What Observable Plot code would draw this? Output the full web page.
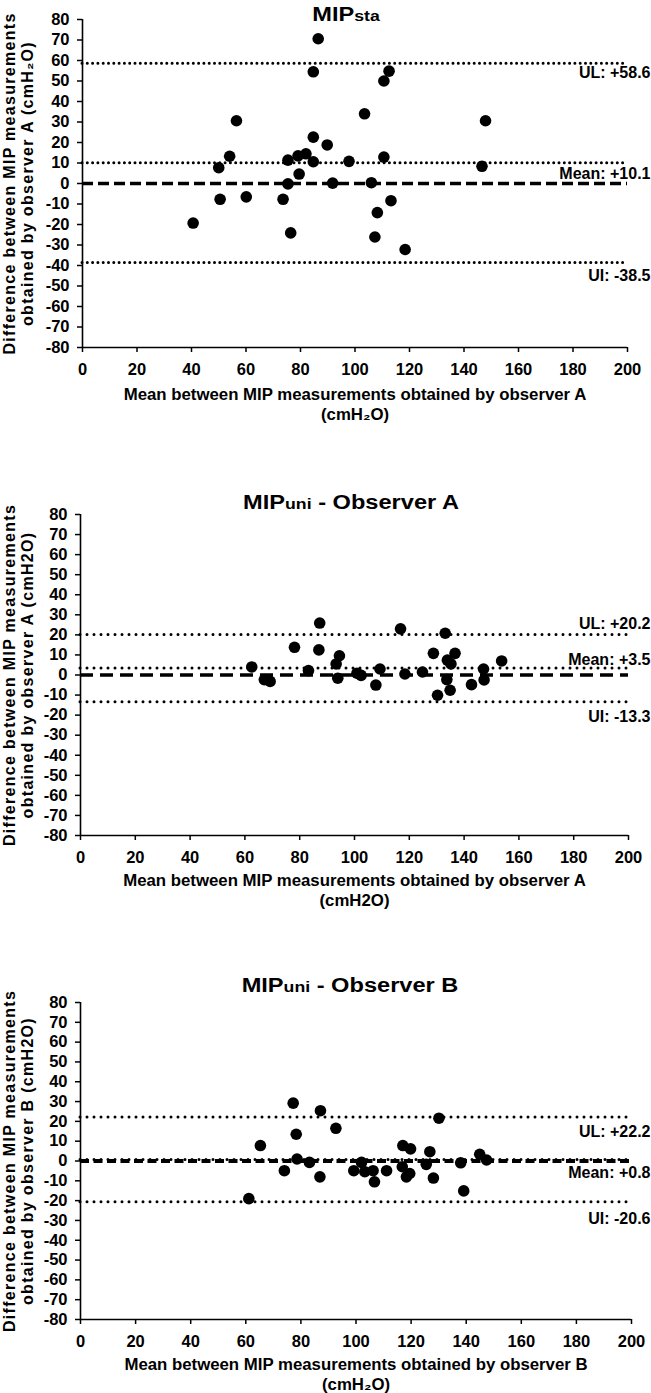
<!DOCTYPE html>
<html><head><meta charset="utf-8">
<script src="https://cdn.jsdelivr.net/npm/d3@7"></script>
<script src="https://cdn.jsdelivr.net/npm/@observablehq/plot@0.6"></script>
<style>
html,body{margin:0;padding:0;background:#fff;}
#wrap{position:relative;width:651px;height:1393px;overflow:hidden;font-family:"Liberation Sans",Arial,sans-serif;}
.panel{position:absolute;left:0;}
.title{position:absolute;font-weight:bold;font-size:20px;line-height:1;color:#000;white-space:nowrap;transform:translate(-50%,-50%) scaleX(1.18);}
.title .s{font-size:15px;}
</style></head><body><div id="wrap"></div>
<script>
// ---- data ----
const xTicks = [0, 20, 40, 60, 80, 100, 120, 140, 160, 180, 200];
const yTicks = [-80, -70, -60, -50, -40, -30, -20, -10, 0, 10, 20, 30, 40, 50, 60, 70, 80];

// Panel 1: MIPsta
const means1 = [86.5, 84.7, 112.5, 110.6, 103.5, 147.9, 56.5, 84.7, 89.8, 82.0, 79.1, 54.0, 75.4, 84.7, 97.8, 110.6, 146.6, 50.0, 79.5, 75.4, 91.8, 106.0, 50.5, 60.1, 73.6, 113.2, 108.2, 40.6, 76.4, 107.3, 118.4];
const diffs1 = [70.6, 54.5, 54.8, 50.0, 34.0, 30.6, 30.6, 22.6, 18.8, 14.5, 13.5, 13.3, 11.4, 10.6, 10.8, 12.9, 8.4, 7.7, 4.6, -0.2, 0.2, 0.4, -7.7, -6.5, -7.7, -8.4, -14.2, -19.3, -24.1, -26.1, -32.2];
const limits1 = [58.6, 10.1, -38.5];
const labels1 = ["UL: +58.6", "Mean: +10.1", "UI: -38.5"];

// Panel 2: MIPuni - Observer A
const means2 = [87.3, 116.8, 133.1, 78.1, 87.0, 94.5, 93.3, 128.8, 136.7, 133.9, 135.2, 153.7, 62.5, 83.2, 109.3, 147.1, 124.8, 100.9, 102.4, 118.4, 67.1, 69.2, 93.9, 133.7, 147.3, 107.8, 142.7, 134.9, 130.3];
const diffs2 = [25.9, 23.0, 20.8, 13.8, 12.5, 9.6, 5.5, 10.8, 10.8, 7.4, 5.5, 7.0, 4.0, 2.2, 3.0, 3.0, 1.5, 0.9, -0.2, 0.5, -2.3, -3.2, -1.6, -2.3, -2.5, -5.0, -4.8, -7.6, -10.1];
const limits2 = [20.2, 3.5, -13.3];
const labels2 = ["UL: +20.2", "Mean: +3.5", "UI: -13.3"];

// Panel 3: MIPuni - Observer B
const means3 = [77.2, 87.1, 130.1, 92.7, 78.3, 65.3, 117.0, 119.8, 126.8, 144.9, 147.4, 78.6, 83.1, 102.0, 138.0, 125.5, 116.8, 74.0, 99.2, 103.2, 106.2, 111.1, 119.5, 86.9, 118.3, 128.1, 106.7, 139.1, 61.1];
const diffs3 = [29.2, 25.4, 21.6, 16.5, 13.5, 7.8, 7.8, 6.1, 4.7, 3.4, 0.5, 1.0, -0.7, -0.7, -0.9, -1.7, -2.9, -4.9, -4.9, -5.4, -4.9, -4.9, -6.3, -8.0, -8.0, -8.6, -10.5, -15.1, -19.0];
const limits3 = [22.2, 0.8, -20.6];
const labels3 = ["UL: +22.2", "Mean: +0.8", "UI: -20.6"];

const FONT = '"Liberation Sans", Arial, sans-serif';
const wrap = document.getElementById("wrap");

function addTitle(html, cx, cy) {
  const d = document.createElement("div");
  d.className = "title";
  d.innerHTML = html;
  d.style.left = cx + "px";
  d.style.top = cy + "px";
  wrap.appendChild(d);
}

function panel(cfg) {
  const data = cfg.means.map((m, i) => ({m, d: cfg.diffs[i]}));
  const labelMarks = cfg.limits.map((v, i) =>
    Plot.text([cfg.labels[i]], {x: 200, y: v, text: d => d, dx: cfg.labelDx, dy: cfg.labelDy[i],
      textAnchor: "end", lineAnchor: "middle", fontSize: 16, fontWeight: "bold", fill: "#000"}));
  const svg = Plot.plot({
    width: 651, height: cfg.height,
    marginTop: cfg.mt, marginBottom: cfg.mb, marginLeft: cfg.ml, marginRight: cfg.mr,
    style: {fontFamily: FONT, fontSize: "16px", fontWeight: "bold", color: "#000", background: "transparent", overflow: "visible"},
    x: {domain: [0, 200], axis: null},
    y: {domain: [-80, 80], axis: null},
    marks: [
      Plot.ruleY([0], {stroke: "#000", strokeWidth: cfg.dashW, strokeDasharray: cfg.dash}),
      Plot.ruleY(cfg.limits, {y: d => d, stroke: "#000", strokeWidth: 3, strokeDasharray: "0," + cfg.dotGap, strokeLinecap: "round"}),
      Plot.dot(data, {x: "m", y: "d", r: 5.8, fill: "#000", stroke: null}),
      Plot.ruleX([0], {stroke: "#000", strokeWidth: 1.6}),
      Plot.ruleY([-80], {stroke: "#000", strokeWidth: 1.6}),
      Plot.axisX({ticks: xTicks, tickSize: 5, tickPadding: 11, strokeWidth: 1.5, tickFormat: d => String(d), fontSize: 16.5, fontWeight: "bold", label: null}),
      Plot.axisY({ticks: yTicks, tickSize: 5, tickPadding: 8, strokeWidth: 1.5, tickFormat: d => String(d), fontSize: 16.5, fontWeight: "bold", label: null}),
      ...labelMarks,
      Plot.text([cfg.yTitle], {frameAnchor: "left", rotate: -90, dx: 18 - cfg.ml, text: d => d,
        textAnchor: "middle", lineAnchor: "middle", lineHeight: 1.125, fontSize: 16, fontWeight: "bold", fill: "#000"}),
      Plot.text([cfg.xTitle], {frameAnchor: "bottom", dy: cfg.xTitleDy, text: d => d,
        textAnchor: "middle", lineAnchor: "middle", lineHeight: 1.2, fontSize: 16.8, fontWeight: "bold", fill: "#000"})
    ]
  });
  d3.select(svg).selectAll("text").filter(function() { return this.textContent.startsWith("Difference"); })
    .attr("letter-spacing", "1.3px");
  svg.classList.add("panel");
  svg.style.top = cfg.top + "px";
  wrap.appendChild(svg);
}

panel({top: 0, height: 430, mt: 19, mb: 83, ml: 82, mr: 24,
  means: means1, diffs: diffs1, limits: limits1, labels: labels1,
  labelDx: 23, labelDy: [10, 11, 13], dash: "11,5", dashW: 3.3, dotGap: 5.3,
  yTitle: "Difference between MIP measurements\nobtained by observer A (cmH₂O)",
  xTitle: "Mean between MIP measurements obtained by observer A\n(cmH₂O)", xTitleDy: 56});
addTitle('MIP<span class="s">sta</span>', 346, 14);

panel({top: 480, height: 430, mt: 34, mb: 75, ml: 80, mr: 23,
  means: means2, diffs: diffs2, limits: limits2, labels: labels2,
  labelDx: 22, labelDy: [-11, -8, 15], dash: "13,7", dashW: 3.5, dotGap: 7,
  yTitle: "Difference between MIP measurements\nobtained by observer A (cmH2O)",
  xTitle: "Mean between MIP measurements obtained by observer A\n(cmH2O)", xTitleDy: 54});
addTitle('MIP<span class="s">uni</span> - Observer A', 351, 502);

panel({top: 960, height: 433, mt: 42, mb: 74, ml: 80, mr: 20,
  means: means3, diffs: diffs3, limits: limits3, labels: labels3,
  labelDx: 19, labelDy: [15, 13, 17], dash: "9,4.5", dashW: 4, dotGap: 7,
  yTitle: "Difference between MIP measurements\nobtained by observer B (cmH2O)",
  xTitle: "Mean between MIP measurements obtained by observer B\n(cmH₂O)", xTitleDy: 54});
addTitle('MIP<span class="s">uni</span> - Observer B', 350, 985);
</script></body></html>
